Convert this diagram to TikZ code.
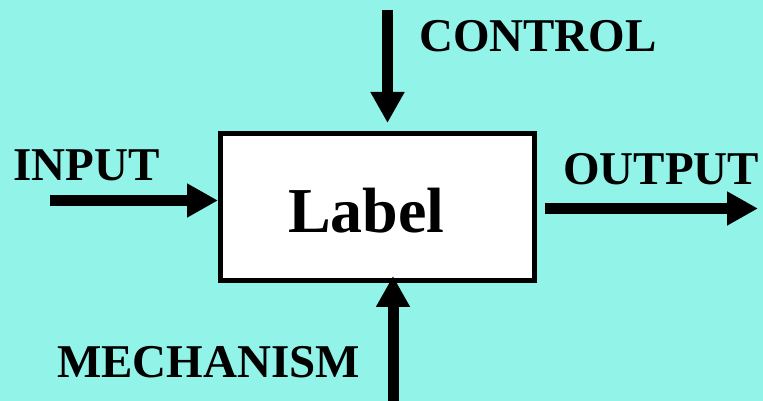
\documentclass[tikz,border=0pt]{standalone}
\usepackage{fontspec}
\setmainfont{Liberation Serif}
\usetikzlibrary{arrows.meta}
\definecolor{bgcyan}{RGB}{146,243,233}
\tikzset{
  flow/.style={line width=11pt, -{Triangle[length=31pt,width=32pt]}},
  tag/.style={anchor=base west, inner sep=0pt, font=\fontsize{47}{56}\selectfont\bfseries},
  activity/.style={draw=black, line width=5pt, fill=white, minimum width=314pt, minimum height=147pt, inner sep=0pt}
}
\begin{document}
\begin{tikzpicture}[x=1pt,y=1pt]
  \fill[bgcyan] (0,0) rectangle (763,401);
  \useasboundingbox (0,0) rectangle (763,401);

  % activity box
  \node[activity] (box) at (377.5,194) {};
  \node[anchor=base west, inner sep=0pt, font=\fontsize{64}{76}\selectfont\bfseries] (lbl) at (288,168) {Label};

  % ICOM labels
  \node[tag] (ctl) at (419,349) {CONTROL};
  \node[tag] (inp) at (13,220) {INPUT};
  \node[tag] (out) at (563,216) {OUTPUT};
  \node[tag] (mech) at (57,23) {MECHANISM};

  % arrow end points
  \coordinate (ctlA) at (387.5,391);
  \coordinate (ctlB) at (387.5,278);
  \coordinate (inA) at (50,200.5);
  \coordinate (outA) at (545,192.5);
  \coordinate (outB) at (758,192.5);
  \coordinate (mechA) at (393,-2);
  \coordinate (mechB) at (393,125);

  % arrows
  \draw[flow] (ctlA) -- (ctlB);
  \draw[flow] (inA) -- (inA -| box.west);
  \draw[flow] (outA) -- (outB);
  \draw[flow] (mechA) -- (mechB);
\end{tikzpicture}
\end{document}
